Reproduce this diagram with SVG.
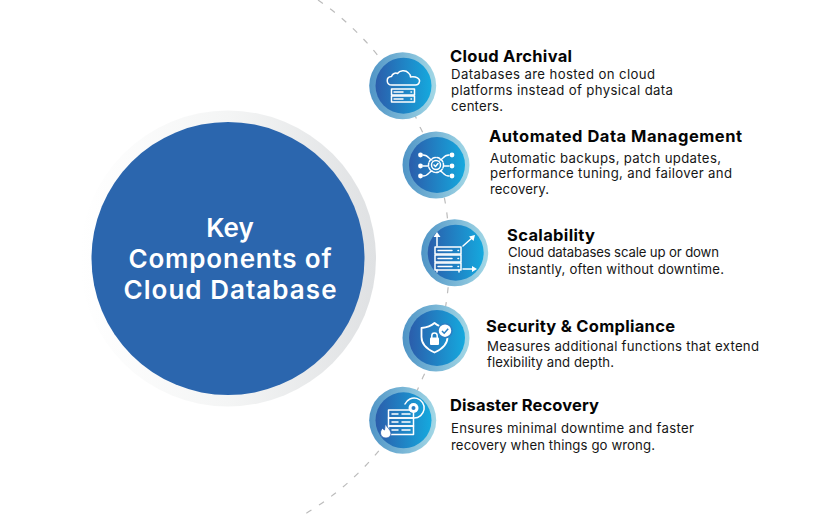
<svg xmlns="http://www.w3.org/2000/svg" width="816" height="514" viewBox="0 0 816 514">
<style>
text{font-family:"Inter","Open Sans","Liberation Sans",sans-serif}
.t{font-size:16.500px;font-weight:700;fill:#050505}
.b{font-size:13.200px;font-weight:400;fill:#161616}
.c{font-size:26px;font-weight:600;fill:#fff;text-anchor:middle}
.i{fill:none;stroke:#fff;stroke-width:1.500;stroke-linecap:round;stroke-linejoin:round}
.f{fill:#fff}
.r{fill:url(#ring)}
.d{fill:url(#disc)}
</style>
<defs>
<linearGradient id="halo" x1="0" y1="0" x2="1" y2="0"><stop offset="0" stop-color="#fff"/><stop offset=".5" stop-color="#f4f5f5"/><stop offset="1" stop-color="#dfe1e3"/></linearGradient>
<linearGradient id="ring" x1="0" y1="0" x2="1" y2="0"><stop offset="0" stop-color="#4f94c6"/><stop offset="1" stop-color="#a3d8e6"/></linearGradient>
<linearGradient id="disc" x1="0" y1="0" x2="1" y2="0"><stop offset="0" stop-color="#2b5dab"/><stop offset="1" stop-color="#15a9de"/></linearGradient>
</defs>
<rect width="816" height="514" fill="#fff"/>
<g id="connectors"><path d="M318 0A285 285 0 0 1 420 127A262 262 0 0 1 449 250A262 262 0 0 1 423 377A285 285 0 0 1 305 514" fill="none" stroke="#bcbcbc" stroke-width="1.200" stroke-dasharray="6 9"/></g>
<g id="center"><circle cx="228" cy="258.500" r="148" fill="url(#halo)"/><circle cx="228" cy="258.500" r="136.500" fill="#2b66ae"/>
<text class="c" x="230" y="237">Key</text><text class="c" x="230" y="268" textLength="203">Components of</text><text class="c" x="230" y="299" textLength="213">Cloud Database</text></g>
<g id="cloud-archival"><circle class="r" cx="402.700" cy="85.700" r="33.500"/><circle class="d" cx="403.500" cy="85.700" r="28"/>
<path class="i" d="M392 85c-6 0-6.500-8-.5-8.500 1-3 4-4 6-3 2-3 8-4 11-.5 2 1.500 2 3 2 4 6-1 9.500 2 9 4.500-.5 2.500-2 3.500-4 3.500H392"/>
<rect class="i" x="391.500" y="89" width="23" height="6"/><rect class="i" x="391.500" y="96" width="23" height="6"/><path class="i" d="M394 92h9M394 99h9M411 92h.5M411 99h.5"/>
<text class="t" x="450" y="62" textLength="122">Cloud Archival</text>
<text class="b" x="451" y="79" textLength="204">Databases are hosted on cloud</text><text class="b" x="451" y="95" textLength="222">platforms instead of physical data</text><text class="b" x="451" y="111" textLength="52">centers.</text></g>
<g id="automated-data-management"><circle class="r" cx="436" cy="165" r="33.500"/><circle class="d" cx="437" cy="165" r="28"/>
<circle class="i" cx="436" cy="165" r="7.500" stroke-dasharray="3 1.500"/><circle class="i" cx="436" cy="165" r="4.500"/><path class="i" d="M434 165l1.500 1.500 2.500-3M423 155c6 0 6 5 9 5M423 166h5M423 176c6 0 6-5 9-5M449 155c-6 0-6 5-9 5M449 166h-5M449 176c-6 0-6-5-9-5"/>
<g class="f"><circle cx="420.500" cy="155" r="2.400"/><circle cx="420.500" cy="166" r="2.400"/><circle cx="420.500" cy="176" r="2.400"/><circle cx="452" cy="155" r="2.400"/><circle cx="452" cy="166" r="2.400"/><circle cx="452" cy="176" r="2.400"/></g>
<text class="t" x="489" y="142" textLength="253">Automated Data Management</text>
<text class="b" x="490" y="163" textLength="231">Automatic backups, patch updates,</text><text class="b" x="490" y="178" textLength="242">performance tuning, and failover and</text><text class="b" x="490" y="194" textLength="59">recovery.</text></g>
<g id="scalability"><circle class="r" cx="454.700" cy="252.700" r="33.500"/><circle class="d" cx="455.700" cy="252.700" r="28"/>
<rect class="i" x="435" y="247" width="26" height="7"/><rect class="i" x="435" y="255" width="26" height="7"/><rect class="i" x="435" y="263" width="26" height="7"/><path class="i" d="M438 250.500h14M438 258.500h14M438 266.500h14M458 250.500h.5M458 258.500h.5M458 266.500h.5M437 272v-2M459 272v-2"/>
<path class="i" d="M437 246v-10M463 246l9-8M463 269h10" stroke-width="2"/><path class="f" d="M437 232l3.500 5h-7zM475 235l-1.500 6-4.500-4.500zM477 269l-5 3v-6z"/>
<text class="t" x="507" y="241" textLength="88">Scalability</text>
<text class="b" x="508" y="257" textLength="211">Cloud databases scale up or down</text><text class="b" x="508" y="274" textLength="216">instantly, often without downtime.</text></g>
<g id="security-compliance"><circle class="r" cx="436" cy="338" r="33.500"/><circle class="d" cx="437" cy="338" r="28"/>
<path d="M434.500 323c4 3.500 8 4.500 13 5v9c0 7-5 12-13 15.500-8-3.500-13-8.500-13-15.500v-9c5-.5 9-1.500 13-5z" fill="none" stroke="#fff" stroke-width="1.800" stroke-linejoin="round"/>
<circle class="f" cx="445" cy="330.700" r="7" stroke="#2a7fc4" stroke-width="1.500"/><path d="M442 331l2.200 2.200 4-4.400" fill="none" stroke="#2a7fc4" stroke-width="1.500"/>
<rect class="f" x="430" y="337.500" width="9" height="7.500" rx="1"/><path class="i" d="M431.800 338v-2.200a2.700 2.700 0 0 1 5.400 0v2.200"/>
<text class="t" x="486" y="332" textLength="189">Security &amp; Compliance</text>
<text class="b" x="487" y="351" textLength="272">Measures additional functions that extend</text><text class="b" x="487" y="367" textLength="127">flexibility and depth.</text></g>
<g id="disaster-recovery"><circle class="r" cx="402.700" cy="420.300" r="33.500"/><circle class="d" cx="403.500" cy="420.300" r="28"/>
<rect class="i" x="388.500" y="410" width="25" height="8"/><rect class="i" x="388.500" y="418" width="25" height="8"/><rect class="i" x="388.500" y="426" width="25" height="8.500"/><path class="i" d="M392 414h6M402 414h8M392 422h6M402 422h8M392 430h6M402 430h8"/>
<circle class="f" cx="413.500" cy="408" r="5"/><circle cx="413.500" cy="408" r="2" fill="#2a7fc4"/><path class="i" d="M405 404a10 10 0 1 1 9 14"/>
<path class="f" d="M385 424c2 3 5 5 6 9 0 3-2 5-5 5s-5.500-2-5.500-5c0-2 1-3.500 2-5 .5 1 1 1.500 2 2 .5-2 .5-4 .5-6z" stroke="#2a5fae" stroke-width=".8"/>
<text class="t" x="450" y="411" textLength="149">Disaster Recovery</text>
<text class="b" x="451" y="433" textLength="243">Ensures minimal downtime and faster</text><text class="b" x="451" y="450" textLength="204">recovery when things go wrong.</text></g>
</svg>
